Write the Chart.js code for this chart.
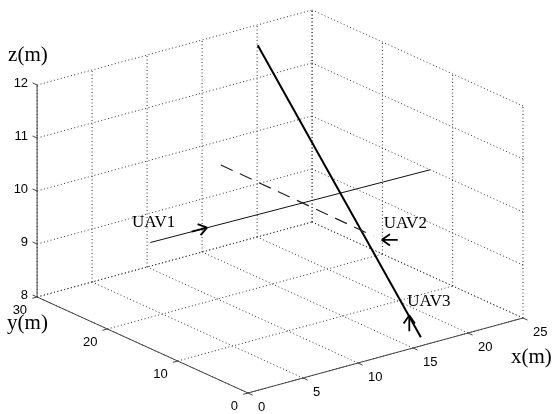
<!DOCTYPE html>
<html>
<head>
<meta charset="utf-8">
<script src="https://cdn.jsdelivr.net/npm/chart.js@4"></script>
<style>
html, body { margin: 0; padding: 0; background: #fff; }
#wrap { width: 552px; height: 414px; }
</style>
</head>
<body>
<div id="wrap"><canvas id="uavChart"></canvas></div>
<script>
// axis ticks
const xTicks = [0, 5, 10, 15, 20, 25];
const yTicks = [0, 10, 20, 30];
const zTicks = [8, 9, 10, 11, 12];

// flight paths, metres
const uav1X = [0, 25];
const uav1Y = [13.9, 13.2];
const uav1Z = [10, 10];
const uav2X = [13.7, 13.5];
const uav2Y = [25.3, 3.3];
const uav2Z = [10, 10];
const uav3X = [17.5, 16.8];
const uav3Y = [26, 1.7];
const uav3Z = [12, 8];

// where the direction arrows sit
const uavNames = ["UAV1", "UAV2", "UAV3"];
const arrowX = [5.1, 13.5, 16.9];
const arrowY = [13.8, 2.1, 3.5];
const arrowZ = [10, 10, 8.3];

// screen step for one unit along x, y, z (fixed 3D view)
const ex = [11, 3], ey = [-7.03, 3.2], ez = [0, 53];
function proj(x, y, z) {
    return {
        x: ex[0] * x + ey[0] * y + ez[0] * (z - zTicks[0]),
        y: ex[1] * x + ey[1] * y + ez[1] * (z - zTicks[0])
    };
}
function path(xs, ys, zs) {
    return xs.map((x, i) => proj(x, ys[i], zs[i]));
}

const box3d = {
    id: 'box3d',
    beforeDatasetsDraw(chart) {
        const ctx = chart.ctx, sx = chart.scales.x, sy = chart.scales.y;
        const P = (x, y, z) => { const p = proj(x, y, z); return [sx.getPixelForValue(p.x), sy.getPixelForValue(p.y)]; };
        const seg = (a, b) => { ctx.beginPath(); ctx.moveTo(a[0], a[1]); ctx.lineTo(b[0], b[1]); ctx.stroke(); };
        const x0 = xTicks[0], x1 = xTicks[xTicks.length - 1];
        const y0 = yTicks[0], y1 = yTicks[yTicks.length - 1];
        const z0 = zTicks[0], z1 = zTicks[zTicks.length - 1];
        ctx.save();
        // dotted grid on the back walls and floor
        ctx.strokeStyle = '#333';
        ctx.lineWidth = 1;
        ctx.setLineDash([1, 2.5]);
        xTicks.forEach(x => seg(P(x, y1, z0), P(x, y1, z1)));
        zTicks.forEach(z => seg(P(x0, y1, z), P(x1, y1, z)));
        yTicks.forEach(y => seg(P(x1, y, z0), P(x1, y, z1)));
        zTicks.forEach(z => seg(P(x1, y0, z), P(x1, y1, z)));
        xTicks.forEach(x => seg(P(x, y0, z0), P(x, y1, z0)));
        yTicks.forEach(y => seg(P(x0, y, z0), P(x1, y, z0)));
        ctx.setLineDash([]);

        // solid axes
        ctx.strokeStyle = '#444';
        seg(P(x0, y1, z0), P(x0, y1, z1));
        seg(P(x0, y0, z0), P(x0, y1, z0));
        seg(P(x0, y0, z0), P(x1, y0, z0));

        // outward tick marks
        const tick = (a, b) => {
            const dx = b[0] - a[0], dy = b[1] - a[1], l = Math.hypot(dx, dy);
            seg(a, [a[0] + dx / l * 5, a[1] + dy / l * 5]);
        };
        zTicks.forEach(z => tick(P(x0, y1, z), P(x0, y1 + 1, z)));
        yTicks.forEach(y => tick(P(x0, y, z0), P(x0 - 1, y, z0)));
        xTicks.forEach(x => tick(P(x, y0, z0), P(x, y0 - 1, z0)));

        // tick labels
        ctx.fillStyle = '#000';
        ctx.font = '13px "Liberation Sans", Arial, sans-serif';
        ctx.textBaseline = 'middle';
        ctx.textAlign = 'right';
        zTicks.forEach(z => { const p = P(x0, y1, z); ctx.fillText(String(z), p[0] - 9, p[1] - 2); });
        yTicks.forEach(y => { const p = P(x0, y, z0); ctx.fillText(String(y), p[0] - 10, p[1] + 13); });
        ctx.textAlign = 'left';
        xTicks.forEach(x => { const p = P(x, y0, z0); ctx.fillText(String(x), p[0] + 10, p[1] + 14); });

        // axis titles
        ctx.font = '21px "Liberation Serif", "Times New Roman", serif';
        ctx.textBaseline = 'alphabetic';
        let p = P(x0, y1, z1);
        ctx.fillText('z(m)', p[0] - 29, p[1] - 24);
        p = P(x0, y1, z0);
        ctx.fillText('y(m)', p[0] - 30, p[1] + 32);
        p = P(x1, y0, z0);
        ctx.fillText('x(m)', p[0] - 12, p[1] + 45);
        ctx.restore();
    },
    afterDatasetsDraw(chart, args, opts) {
        const ctx = chart.ctx, sx = chart.scales.x, sy = chart.scales.y;
        ctx.save();
        ctx.strokeStyle = '#000';
        ctx.fillStyle = '#000';
        ctx.lineWidth = 1.8;
        ctx.font = '17px "Liberation Serif", "Times New Roman", serif';
        ctx.textAlign = 'left';
        ctx.textBaseline = 'alphabetic';
        uavNames.forEach((name, i) => {
            const q = proj(arrowX[i], arrowY[i], arrowZ[i]);
            const tx = sx.getPixelForValue(q.x), ty = sy.getPixelForValue(q.y);
            const a = opts.angles[i] * Math.PI / 180;
            const bx = -Math.cos(a), by = -Math.sin(a);
            ctx.beginPath();
            ctx.moveTo(tx, ty);
            ctx.lineTo(tx + bx * 16, ty + by * 16);
            [0.6, -0.6].forEach(w => {
                ctx.moveTo(tx, ty);
                ctx.lineTo(tx + (bx * Math.cos(w) - by * Math.sin(w)) * 10,
                           ty + (bx * Math.sin(w) + by * Math.cos(w)) * 10);
            });
            ctx.stroke();
            ctx.fillText(name, tx + opts.labelDx[i], ty + opts.labelDy[i]);
        });
        ctx.restore();
    }
};

new Chart("uavChart", {
    type: "scatter",
    data: {
        datasets: [{
            label: "UAV1",
            data: path(uav1X, uav1Y, uav1Z),
            showLine: true,
            borderColor: "#111",
            borderWidth: 1,
            pointRadius: 0
        }, {
            label: "UAV2",
            data: path(uav2X, uav2Y, uav2Z),
            showLine: true,
            borderColor: "#222",
            borderWidth: 1.2,
            borderDash: [13, 8],
            pointRadius: 0
        }, {
            label: "UAV3",
            data: path(uav3X, uav3Y, uav3Z),
            showLine: true,
            borderColor: "#000",
            borderWidth: 2,
            pointRadius: 0
        }]
    },
    options: {
        animation: false,
        responsive: true,
        maintainAspectRatio: false,
        layout: { padding: 0 },
        scales: {
            x: { type: 'linear', display: false, min: -248, max: 304 },
            y: { type: 'linear', display: false, min: -21, max: 393 }
        },
        plugins: {
            legend: { display: false },
            tooltip: { enabled: false },
            box3d: {
                angles: [-15, 180, -90],
                labelDx: [-75, 2, -2],
                labelDy: [-1, -12, -9]
            }
        }
    },
    plugins: [box3d]
});
</script>
</body>
</html>
